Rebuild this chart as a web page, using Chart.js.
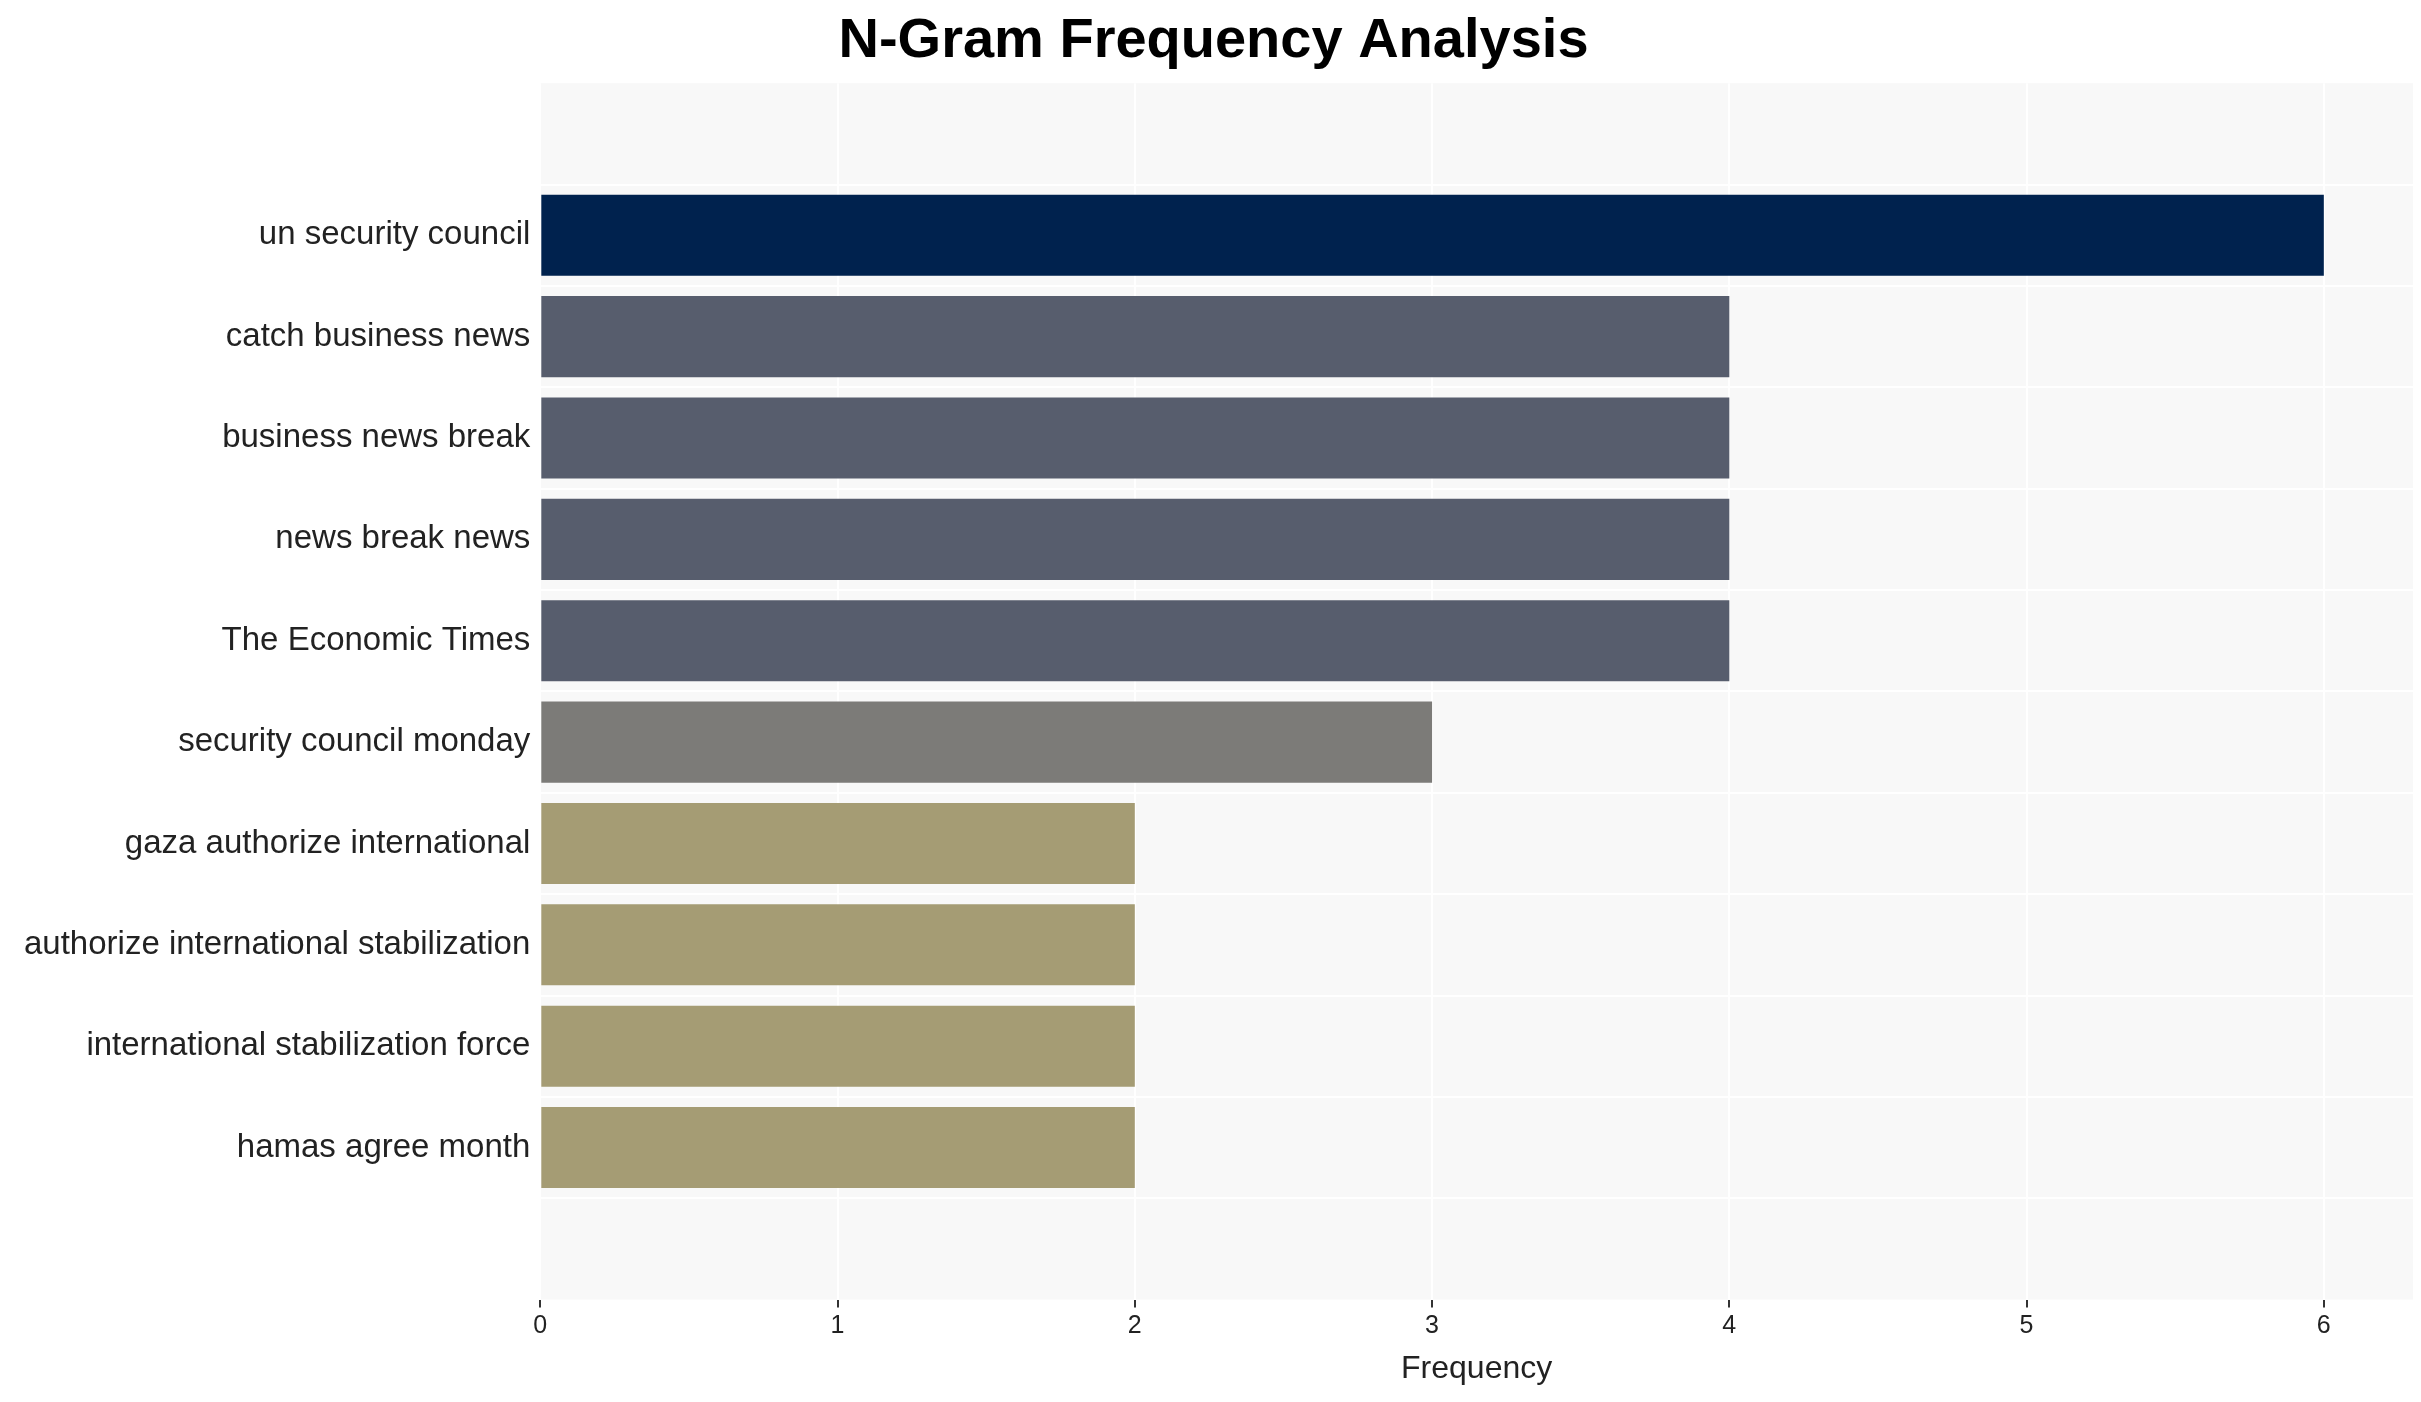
<!DOCTYPE html>
<html><head><meta charset="utf-8">
<script src="https://cdn.jsdelivr.net/npm/chart.js@4"></script>
<style>html,body{margin:0;padding:0;background:#fff}#w{width:2421px;height:1402px}</style>
</head><body><div id="w"><canvas id="c"></canvas></div>
<script>
const categories=["un security council","catch business news","business news break","news break news","The Economic Times","security council monday","gaza authorize international","authorize international stabilization","international stabilization force","hamas agree month"];
const values=[6,4,4,4,4,3,2,2,2,2];
const colors=["#00224e","#575d6d","#575d6d","#575d6d","#575d6d","#7c7b78","#a59c74","#a59c74","#a59c74","#a59c74"];
const xTicks=[0,1,2,3,4,5,6];
const bg={id:'bg',beforeDraw(c){const a=c.chartArea,x=c.ctx;x.save();x.fillStyle='#f8f8f8';x.fillRect(a.left,a.top,a.right-a.left,a.bottom-a.top);x.restore();}};
new Chart(document.getElementById('c'),{type:'bar',
data:{datasets:[{data:values.map((v,i)=>({x:v,y:i})),backgroundColor:colors,barPercentage:0.8,categoryPercentage:1}]},
options:{indexAxis:'y',responsive:true,maintainAspectRatio:false,animation:false,
layout:{padding:{left:14,right:8,top:0,bottom:10}},
plugins:{legend:{display:false},tooltip:{enabled:false},
title:{display:true,text:'N-Gram Frequency Analysis',color:'#000',font:{family:'Liberation Sans',size:56,weight:'bold'},padding:{top:8,bottom:8}}},
scales:{x:{type:'linear',min:0,max:6.3,afterBuildTicks(a){a.ticks=xTicks.map(v=>({value:v}));},
grid:{color:'#ffffff',lineWidth:2,drawTicks:true,tickColor:'#333',tickLength:8},border:{display:false},
ticks:{color:'#222',font:{family:'Liberation Sans',size:25},padding:4},
title:{display:true,text:'Frequency',color:'#222',font:{family:'Liberation Sans',size:32},padding:{top:4}}},
y:{type:'linear',reverse:true,min:-0.9,max:9.9,afterBuildTicks(a){a.ticks=categories.map((c,i)=>({value:i}));},
grid:{color:'#ffffff',lineWidth:2,drawTicks:false},border:{display:false},
ticks:{color:'#222',font:{family:'Liberation Sans',size:33},padding:10,callback:(v)=>categories[v]??''}}}},
plugins:[bg]});
</script></body></html>
